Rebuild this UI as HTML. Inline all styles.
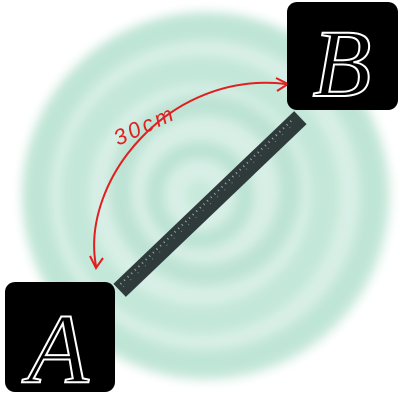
<!DOCTYPE html>
<html><head><meta charset="utf-8"><style>
html,body{margin:0;padding:0;background:#fff;width:400px;height:400px;overflow:hidden}
</style></head><body>
<svg width="400" height="400" viewBox="0 0 400 400">
<defs>
<filter id="blur" x="-20%" y="-20%" width="140%" height="140%"><feGaussianBlur stdDeviation="5"/></filter>
</defs>
<g filter="url(#blur)">
<circle cx="206" cy="196" r="185" fill="#d8efe6"/>
<circle cx="205" cy="195" r="168" fill="none" stroke="#bfe5d6" stroke-width="26"/>
<circle cx="200" cy="195" r="125" fill="none" stroke="#c3e7d9" stroke-width="28"/>
<circle cx="205" cy="190" r="85" fill="none" stroke="#bde3d4" stroke-width="22"/>
<circle cx="200" cy="195" r="45" fill="none" stroke="#bce3d4" stroke-width="18"/>
<circle cx="200" cy="195" r="15" fill="#c8e9dc"/>
</g>
<g transform="translate(210,204) rotate(-43.7)">
<rect x="-125" y="-9" width="250" height="18" fill="#2f3b3a"/>
<line x1="-120" y1="-4" x2="120" y2="-4" stroke="#9aa" stroke-width="2" stroke-dasharray="1 4"/>
<line x1="-120" y1="0" x2="120" y2="0" stroke="#788" stroke-width="1" stroke-dasharray="1 9"/>
</g>
<g fill="none" stroke="#e02020" stroke-width="2">
<path d="M96,266 C80,180 170,70 286,84"/>
<path d="M90,256 L96,268 L103,258"/>
<path d="M276,78 L288,84 L277,91"/>
</g>
<text x="118" y="146" transform="rotate(-25 118 146)" fill="#e02020" font-family="Liberation Sans, sans-serif" font-size="22" letter-spacing="3" font-style="italic">30cm</text>
<g>
<rect x="287" y="2" width="111" height="108" rx="10" fill="#000"/>
<text x="342" y="96" text-anchor="middle" fill="none" stroke="#fff" stroke-width="2" font-family="Liberation Serif, serif" font-size="96" font-style="italic">B</text>
</g>
<g>
<rect x="5" y="282" width="110" height="110" rx="10" fill="#000"/>
<text x="58" y="382" text-anchor="middle" fill="none" stroke="#fff" stroke-width="2" font-family="Liberation Serif, serif" font-size="100" font-style="italic">A</text>
</g>
</svg>
</body></html>
